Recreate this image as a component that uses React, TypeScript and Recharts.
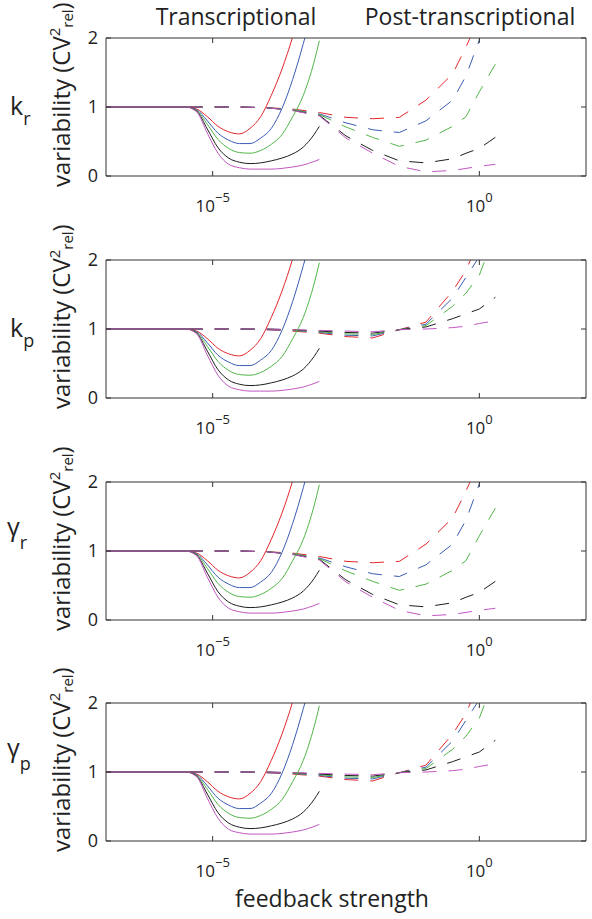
import React from "react";
import { LineChart, Line, XAxis, YAxis } from "recharts";

// x values are log10(feedback strength)
const solidLogX = [-7, -6, -5.5, -5.3, -5.1, -4.9, -4.7, -4.5, -4.3, -4.1, -3.9, -3.7, -3.5, -3.3, -3.1, -3.0];
const solidRed = [1, 1, 1, 0.97, 0.86, 0.72, 0.64, 0.61, 0.69, 0.86, 1.17, 1.55, 2.02, 2.6, null, null];
const solidBlue = [1, 1, 1, 0.96, 0.8, 0.62, 0.52, 0.47, 0.47, 0.55, 0.69, 0.98, 1.4, 1.92, 2.5, null];
const solidGreen = [1, 1, 1, 0.95, 0.75, 0.53, 0.4, 0.34, 0.33, 0.37, 0.46, 0.6, 0.86, 1.17, 1.65, 1.96];
const solidBlack = [1, 1, 1, 0.94, 0.68, 0.41, 0.26, 0.2, 0.18, 0.19, 0.22, 0.26, 0.32, 0.42, 0.6, 0.72];
const solidMagenta = [1, 1, 1, 0.93, 0.62, 0.33, 0.17, 0.12, 0.1, 0.1, 0.1, 0.11, 0.13, 0.16, 0.21, 0.24];

const dashedLogX = [-5.45, -5, -4.5, -4, -3.5, -3, -2.5, -2, -1.5, -1, -0.5, -0.25, 0, 0.3];
// post-transcriptional, k_r and gamma_r panels
const dipRed = [1, 1, 1, 0.99, 0.97, 0.92, 0.85, 0.83, 0.85, 1.1, 1.48, 1.87, 2.3, null];
const dipBlue = [1, 1, 1, 0.99, 0.96, 0.9, 0.77, 0.67, 0.63, 0.8, 1.1, 1.45, 1.97, 3.0];
const dipGreen = [1, 1, 1, 0.99, 0.96, 0.89, 0.71, 0.56, 0.43, 0.52, 0.72, 0.86, 1.22, 1.62];
const dipBlack = [1, 1, 1, 0.99, 0.95, 0.88, 0.58, 0.37, 0.22, 0.19, 0.25, 0.33, 0.4, 0.56];
const dipMagenta = [1, 1, 1, 0.99, 0.95, 0.87, 0.55, 0.33, 0.14, 0.06, 0.08, 0.11, 0.14, 0.17];
// post-transcriptional, k_p and gamma_p panels
const riseRed = [1, 1, 1, 0.99, 0.97, 0.94, 0.89, 0.87, 0.99, 1.1, 1.55, 1.85, 2.3, null];
const riseBlue = [1, 1, 1, 0.99, 0.98, 0.95, 0.91, 0.9, 0.99, 1.07, 1.45, 1.75, 2.05, null];
const riseGreen = [1, 1, 1, 1, 0.98, 0.96, 0.93, 0.92, 0.99, 1.05, 1.33, 1.52, 1.78, 2.4];
const riseBlack = [1, 1, 1, 1, 0.99, 0.97, 0.95, 0.94, 0.99, 1.03, 1.15, 1.22, 1.29, 1.46];
const riseMagenta = [1, 1, 1, 1, 0.99, 0.98, 0.97, 0.96, 0.99, 1.0, 1.02, 1.04, 1.08, 1.12];

const xTicks = [1e-5, 1];
const yTicks = [0, 1, 2];
const rowSymbols = ["k", "k", "γ", "γ"];
const rowSubscripts = ["r", "p", "r", "p"];
const rowShapes = ["dip", "rise", "dip", "rise"];

const RED = "#e3262b";
const BLUE = "#3a5db3";
const GREEN = "#52b64a";
const BLACK = "#1e1e1e";
const MAGENTA = "#c257c2";
const AXIS = "#333";
const TEXT = "#222";
const FONT = "'Open Sans', sans-serif";

const toPoints = (logX: number[], ys: (number | null)[]) =>
  logX
    .map((u, i) => ({ x: Math.pow(10, u), y: ys[i] }))
    .filter((p) => p.y !== null);

const solidSeries = [
  { color: RED, pts: toPoints(solidLogX, solidRed) },
  { color: BLUE, pts: toPoints(solidLogX, solidBlue) },
  { color: GREEN, pts: toPoints(solidLogX, solidGreen) },
  { color: BLACK, pts: toPoints(solidLogX, solidBlack) },
  { color: MAGENTA, pts: toPoints(solidLogX, solidMagenta) },
];

const dashedSeries: Record<string, { color: string; pts: { x: number; y: number | null }[] }[]> = {
  dip: [
    { color: RED, pts: toPoints(dashedLogX, dipRed) },
    { color: BLUE, pts: toPoints(dashedLogX, dipBlue) },
    { color: GREEN, pts: toPoints(dashedLogX, dipGreen) },
    { color: BLACK, pts: toPoints(dashedLogX, dipBlack) },
    { color: MAGENTA, pts: toPoints(dashedLogX, dipMagenta) },
  ],
  rise: [
    { color: RED, pts: toPoints(dashedLogX, riseRed) },
    { color: BLUE, pts: toPoints(dashedLogX, riseBlue) },
    { color: GREEN, pts: toPoints(dashedLogX, riseGreen) },
    { color: BLACK, pts: toPoints(dashedLogX, riseBlack) },
    { color: MAGENTA, pts: toPoints(dashedLogX, riseMagenta) },
  ],
};

const BottomTick = (props: any) => {
  const { x, y, payload } = props;
  const exp = Math.round(Math.log10(payload.value));
  return (
    <g>
      <line x1={x} y1={y} x2={x} y2={y - 5} stroke={AXIS} />
      <text x={x} y={y + 36} textAnchor="middle" fontSize={17} fill={TEXT} fontFamily={FONT}>
        10
        <tspan dy={-10} fontSize={13}>
          {exp < 0 ? `\u2212${-exp}` : `${exp}`}
        </tspan>
      </text>
    </g>
  );
};

const TopTick = (props: any) => {
  const { x, y } = props;
  return <line x1={x} y1={y} x2={x} y2={y + 5} stroke={AXIS} />;
};

const LeftTick = (props: any) => {
  const { x, y, payload } = props;
  return (
    <g>
      <line x1={x} y1={y} x2={x + 5} y2={y} stroke={AXIS} />
      <text x={x - 8} y={y} dy="0.36em" textAnchor="end" fontSize={18} fill={TEXT} fontFamily={FONT}>
        {payload.value}
      </text>
    </g>
  );
};

const RightTick = (props: any) => {
  const { x, y } = props;
  return <line x1={x} y1={y} x2={x - 5} y2={y} stroke={AXIS} />;
};

const PANEL_TOPS = [38, 260, 482, 703];
const PLOT_H = 138;
const PAD_TOP = 20;
const XAXIS_H = 44;

function Panel({ shape }: { shape: string }) {
  return (
    <LineChart
      width={592}
      height={PAD_TOP + PLOT_H + XAXIS_H}
      margin={{ top: PAD_TOP - 1, right: 5, bottom: 0, left: 0 }}
    >
      <XAxis
        dataKey="x"
        type="number"
        scale="log"
        domain={[1e-7, 100]}
        allowDataOverflow
        ticks={xTicks}
        height={XAXIS_H}
        tickSize={0}
        tickMargin={0}
        tickLine={false}
        axisLine={{ stroke: AXIS }}
        tick={<BottomTick />}
      />
      <XAxis
        xAxisId="top"
        orientation="top"
        dataKey="x"
        type="number"
        scale="log"
        domain={[1e-7, 100]}
        allowDataOverflow
        ticks={xTicks}
        height={1}
        tickSize={0}
        tickMargin={0}
        tickLine={false}
        axisLine={{ stroke: AXIS }}
        tick={<TopTick />}
      />
      <YAxis
        type="number"
        domain={[0, 2]}
        allowDataOverflow
        ticks={yTicks}
        width={106}
        tickSize={0}
        tickMargin={0}
        tickLine={false}
        axisLine={{ stroke: AXIS }}
        tick={<LeftTick />}
      />
      <YAxis
        yAxisId="right"
        orientation="right"
        type="number"
        domain={[0, 2]}
        allowDataOverflow
        ticks={yTicks}
        width={1}
        tickSize={0}
        tickMargin={0}
        tickLine={false}
        axisLine={{ stroke: AXIS }}
        tick={<RightTick />}
      />
      {dashedSeries[shape].map((s, i) => (
        <Line
          key={`d${i}`}
          data={s.pts}
          dataKey="y"
          type="linear"
          stroke={s.color}
          strokeWidth={1}
          strokeDasharray="14 12"
          dot={false}
          activeDot={false}
          isAnimationActive={false}
        />
      ))}
      {solidSeries.map((s, i) => (
        <Line
          key={`s${i}`}
          data={s.pts}
          dataKey="y"
          type="monotone"
          stroke={s.color}
          strokeWidth={1}
          dot={false}
          activeDot={false}
          isAnimationActive={false}
        />
      ))}
    </LineChart>
  );
}

export default function App() {
  return (
    <div style={{ position: "absolute", left: 0, top: 0, width: 592, height: 919, background: "#fff" }}>
      {PANEL_TOPS.map((top, i) => (
        <div key={i} style={{ position: "absolute", left: 0, top: top - PAD_TOP }}>
          <Panel shape={rowShapes[i]} />
        </div>
      ))}
      <svg
        width={592}
        height={919}
        style={{ position: "absolute", left: 0, top: 0, pointerEvents: "none" }}
        fontFamily={FONT}
        fill={TEXT}
      >
        <text x={236} y={25} textAnchor="middle" fontSize={23}>
          Transcriptional
        </text>
        <text x={470} y={25} textAnchor="middle" fontSize={23}>
          Post-transcriptional
        </text>
        {PANEL_TOPS.map((top, i) => (
          <g key={i}>
            <text
              x={rowSymbols[i] === "k" ? 10 : 7}
              y={top + (rowSymbols[i] === "k" ? 77 : 54)}
              fontSize={25}
            >
              {rowSymbols[i]}
              <tspan dy={rowSymbols[i] === "k" ? 10 : 13} fontSize={18}>
                {rowSubscripts[i]}
              </tspan>
            </text>
            <text transform={`translate(70, ${top + 149}) rotate(-90)`} fontSize={24}>
              variability (CV
              <tspan dy={-10} fontSize={15}>
                2
              </tspan>
              <tspan dy={13} fontSize={15}>
                rel
              </tspan>
              <tspan dy={-3}>)</tspan>
            </text>
          </g>
        ))}
        <text x={332} y={907} textAnchor="middle" fontSize={23}>
          feedback strength
        </text>
      </svg>
    </div>
  );
}
